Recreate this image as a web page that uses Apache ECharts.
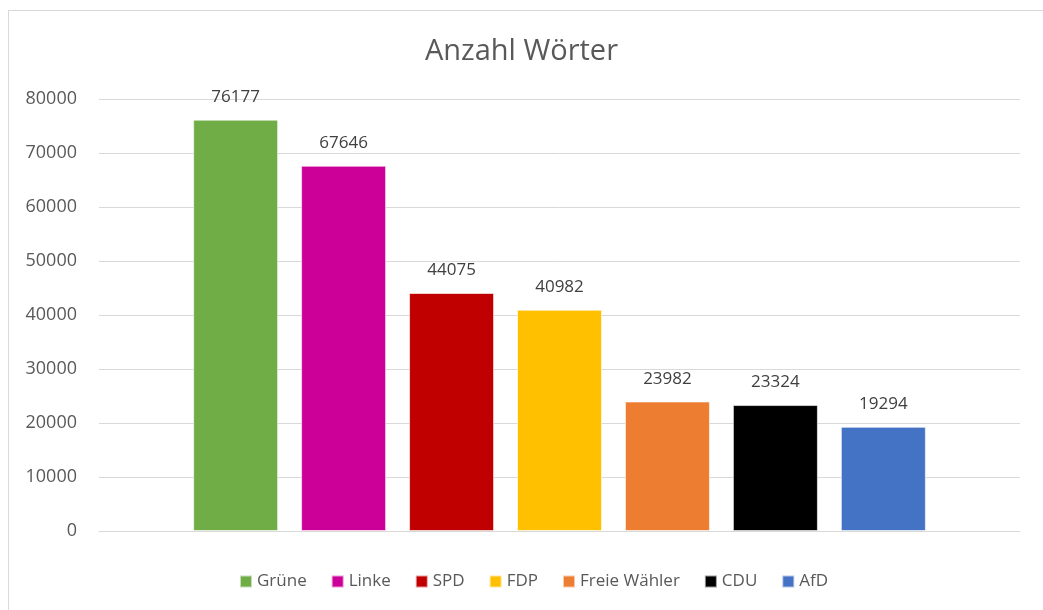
<!DOCTYPE html>
<html>
<head>
<meta charset="utf-8">
<script src="https://cdn.jsdelivr.net/npm/echarts@6/dist/echarts.min.js"></script>
<style>
html, body { margin: 0; padding: 0; background: #fff; }
#frame {
    position: absolute; left: 8px; top: 10px; width: 1100px; height: 700px;
    border: 1px solid #d9d9d9; box-sizing: border-box;
}
#chart { position: absolute; left: 0; top: 0; width: 1043px; height: 610px; }
</style>
</head>
<body>
<div id="frame"></div>
<div id="chart"></div>
<script>
var parties = ['Grüne', 'Linke', 'SPD', 'FDP', 'Freie Wähler', 'CDU', 'AfD'];
var words = [76177, 67646, 44075, 40982, 23982, 23324, 19294];
var colors = ['#70ad47', '#cc0099', '#c00000', '#ffc000', '#ed7d31', '#000000', '#4472c4'];
var yTicks = [0, 10000, 20000, 30000, 40000, 50000, 60000, 70000, 80000];

var chart = echarts.init(document.getElementById('chart'));

var series = parties.map(function (p, i) {
    return {
        name: p,
        type: 'bar',
        data: [words[i]],
        barWidth: 85,
        barGap: '27%',
        itemStyle: { color: colors[i], borderColor: 'rgba(255,255,255,0.6)', borderWidth: 1 },
        label: {
            show: true,
            position: 'top',
            distance: 14,
            color: '#404040',
            fontSize: 17,
            fontFamily: 'Open Sans'
        }
    };
});

var option = {
    animation: false,
    color: colors,
    title: {
        text: 'Anzahl Wörter',
        left: 'center',
        top: 32,
        textStyle: { color: '#595959', fontSize: 29, fontWeight: 'normal', fontFamily: 'Open Sans' }
    },
    legend: {
        top: 568,
        left: 234,
        itemWidth: 12,
        itemHeight: 12,
        itemGap: 24,
        icon: 'rect',
        textStyle: { color: '#595959', fontSize: 17, fontFamily: 'Open Sans' },
        data: parties
    },
    grid: { left: 99, right: 23, top: 99, bottom: 79 },
    xAxis: {
        type: 'category',
        data: [''],
        axisLine: { lineStyle: { color: '#d9d9d9' } },
        axisTick: { show: false },
        axisLabel: { show: false }
    },
    yAxis: {
        type: 'value',
        min: yTicks[0],
        max: yTicks[yTicks.length - 1],
        interval: 10000,
        axisLine: { show: false },
        axisTick: { show: false },
        axisLabel: {
            color: '#595959', fontSize: 18, fontFamily: 'Open Sans', margin: 22,
            formatter: function (v) { return String(v); }
        },
        splitLine: { lineStyle: { color: '#d9d9d9', width: 1 } }
    },
    series: series
};
chart.setOption(option);
</script>
</body>
</html>
